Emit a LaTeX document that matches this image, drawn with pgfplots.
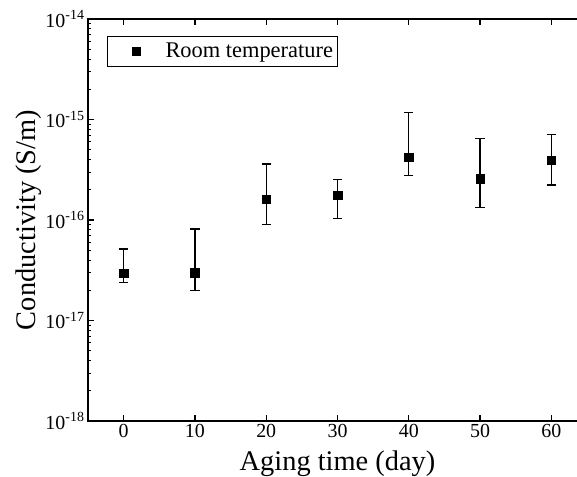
\documentclass[border=0pt]{standalone}
\usepackage{pgfplots}
\pgfplotsset{compat=1.18}
\usepackage{fontspec}
\setmainfont{Liberation Serif}
\begin{document}
\begin{tikzpicture}
\begin{axis}[
  scale only axis, width=499bp, height=402bp,
  xmin=-5, xmax=65,
  ymode=log, ymin=1e-18, ymax=1e-14,
  xtick={0,10,20,30,40,50,60},
  ytick={1e-18,1e-17,1e-16,1e-15,1e-14},
  yticklabels={10\textsuperscript{-18},10\textsuperscript{-17},10\textsuperscript{-16},10\textsuperscript{-15},10\textsuperscript{-14}},
  /pgf/number format/assume math mode=true,
  tick align=inside,
  major tick length=6bp, minor tick length=3bp,
  axis line style={line width=1.5bp},
  every tick/.style={black, line width=1.2bp},
  every minor tick/.style={black, line width=0.9bp},
  tick label style={font=\fontsize{20}{23}\selectfont},
  every axis x label/.style={at={(axis description cs:0.5,-0.1219)}, anchor=base},
  every axis y label/.style={at={(axis description cs:-0.1062,0.5)}, rotate=90, anchor=base},
  label style={font=\fontsize{28.5}{32}\selectfont},
  xlabel={Aging time (day)},
  ylabel={Conductivity (S/m)},
  legend style={at={(axis description cs:0.0375,0.958)}, anchor=north west,
    draw=black, line width=0.6bp, font=\fontsize{22.5}{26}\selectfont,
    inner xsep=2.5bp, inner ysep=5bp},
  legend image code/.code={\fill[black] (22.5bp,-4bp) rectangle (30.5bp,4bp); \path[draw=none] (0bp,0bp) -- (54bp,0bp);},
]
\addplot[only marks, black, mark=square*, mark size=4.3bp, mark options={fill=black, line width=0.4bp},
  error bars/.cd, y dir=both, y explicit,
  error mark options={rotate=90, mark size=4.7bp, line width=1.4bp, black},
  error bar style={line width=1.4bp, black}]
  table[x=x, y=y, y error plus=ep, y error minus=em] {
x   y        ep       em
0   2.95e-17 2.19e-17 0.57e-17
10  2.99e-17 5.14e-17 1.01e-17
20  1.61e-16 2.00e-16 7.04e-17
30  1.77e-16 7.70e-17 7.40e-17
40  4.21e-16 7.59e-16 1.45e-16
50  2.58e-16 3.86e-16 1.25e-16
60  3.93e-16 3.13e-16 1.70e-16
};
\addlegendentry{Room temperature}
\coordinate (o) at (rel axis cs:0,0);
\end{axis}
\pgfresetboundingbox
\useasboundingbox ([shift={(-88bp,-56bp)}]o) rectangle ++(577bp,477bp);
\end{tikzpicture}
\end{document}
